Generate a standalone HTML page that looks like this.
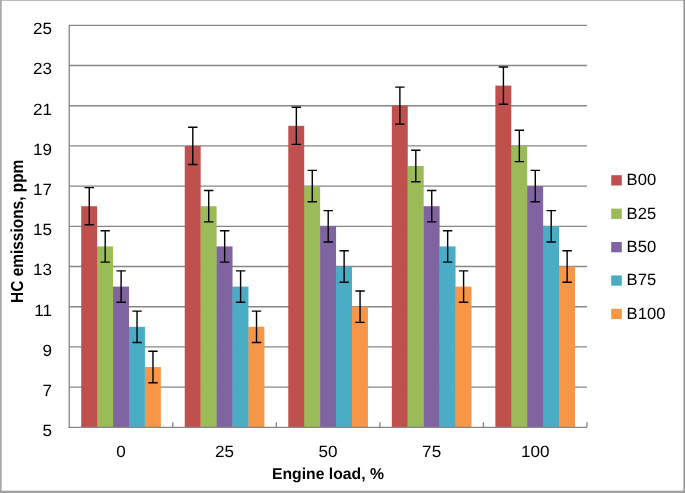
<!DOCTYPE html>
<html><head><meta charset="utf-8"><title>HC emissions</title>
<style>
html,body{margin:0;padding:0;background:#fff;}
svg{display:block}
text{text-rendering:geometricPrecision}
.t{font-family:"Liberation Sans",sans-serif;font-size:16.3px;fill:#000}
.b{font-family:"Liberation Sans",sans-serif;font-size:16px;font-weight:bold;fill:#000}
</style></head><body>
<svg width="685" height="493" viewBox="0 0 685 493">
<rect x="0" y="0" width="685" height="493" fill="#ffffff"/>
<line x1="69.25" x2="586.95" y1="387.10" y2="387.10" stroke="#868686" stroke-width="1.35"/>
<line x1="69.25" x2="586.95" y1="346.90" y2="346.90" stroke="#868686" stroke-width="1.35"/>
<line x1="69.25" x2="586.95" y1="306.70" y2="306.70" stroke="#868686" stroke-width="1.35"/>
<line x1="69.25" x2="586.95" y1="266.50" y2="266.50" stroke="#868686" stroke-width="1.35"/>
<line x1="69.25" x2="586.95" y1="226.30" y2="226.30" stroke="#868686" stroke-width="1.35"/>
<line x1="69.25" x2="586.95" y1="186.10" y2="186.10" stroke="#868686" stroke-width="1.35"/>
<line x1="69.25" x2="586.95" y1="145.90" y2="145.90" stroke="#868686" stroke-width="1.35"/>
<line x1="69.25" x2="586.95" y1="105.70" y2="105.70" stroke="#868686" stroke-width="1.35"/>
<line x1="69.25" x2="586.95" y1="65.50" y2="65.50" stroke="#868686" stroke-width="1.35"/>
<line x1="69.25" x2="586.95" y1="25.30" y2="25.30" stroke="#868686" stroke-width="1.35"/>
<rect x="81.20" y="206.20" width="15.93" height="221.10" fill="#C0504D"/>
<rect x="96.93" y="246.90" width="0.9" height="180.40" fill="#C0504D"/>
<rect x="184.74" y="145.90" width="15.93" height="281.40" fill="#C0504D"/>
<rect x="200.47" y="206.70" width="0.9" height="220.60" fill="#C0504D"/>
<rect x="288.28" y="125.80" width="15.93" height="301.50" fill="#C0504D"/>
<rect x="304.01" y="186.60" width="0.9" height="240.70" fill="#C0504D"/>
<rect x="391.82" y="105.70" width="15.93" height="321.60" fill="#C0504D"/>
<rect x="407.55" y="166.50" width="0.9" height="260.80" fill="#C0504D"/>
<rect x="495.36" y="85.60" width="15.93" height="341.70" fill="#C0504D"/>
<rect x="511.09" y="146.40" width="0.9" height="280.90" fill="#C0504D"/>
<rect x="97.13" y="246.40" width="15.93" height="180.90" fill="#9BBB59"/>
<rect x="112.86" y="287.10" width="0.9" height="140.20" fill="#9BBB59"/>
<rect x="200.67" y="206.20" width="15.93" height="221.10" fill="#9BBB59"/>
<rect x="216.40" y="246.90" width="0.9" height="180.40" fill="#9BBB59"/>
<rect x="304.21" y="186.10" width="15.93" height="241.20" fill="#9BBB59"/>
<rect x="319.94" y="226.80" width="0.9" height="200.50" fill="#9BBB59"/>
<rect x="407.75" y="166.00" width="15.93" height="261.30" fill="#9BBB59"/>
<rect x="423.48" y="206.70" width="0.9" height="220.60" fill="#9BBB59"/>
<rect x="511.29" y="145.90" width="15.93" height="281.40" fill="#9BBB59"/>
<rect x="527.02" y="186.60" width="0.9" height="240.70" fill="#9BBB59"/>
<rect x="113.06" y="286.60" width="15.93" height="140.70" fill="#8064A2"/>
<rect x="128.78" y="327.30" width="0.9" height="100.00" fill="#8064A2"/>
<rect x="216.60" y="246.40" width="15.93" height="180.90" fill="#8064A2"/>
<rect x="232.32" y="287.10" width="0.9" height="140.20" fill="#8064A2"/>
<rect x="320.14" y="226.30" width="15.93" height="201.00" fill="#8064A2"/>
<rect x="335.86" y="267.00" width="0.9" height="160.30" fill="#8064A2"/>
<rect x="423.68" y="206.20" width="15.93" height="221.10" fill="#8064A2"/>
<rect x="439.40" y="246.90" width="0.9" height="180.40" fill="#8064A2"/>
<rect x="527.22" y="186.10" width="15.93" height="241.20" fill="#8064A2"/>
<rect x="542.94" y="226.80" width="0.9" height="200.50" fill="#8064A2"/>
<rect x="128.98" y="326.80" width="15.93" height="100.50" fill="#4BACC6"/>
<rect x="144.71" y="367.50" width="0.9" height="59.80" fill="#4BACC6"/>
<rect x="232.52" y="286.60" width="15.93" height="140.70" fill="#4BACC6"/>
<rect x="248.25" y="327.30" width="0.9" height="100.00" fill="#4BACC6"/>
<rect x="336.06" y="266.50" width="15.93" height="160.80" fill="#4BACC6"/>
<rect x="351.79" y="307.20" width="0.9" height="120.10" fill="#4BACC6"/>
<rect x="439.60" y="246.40" width="15.93" height="180.90" fill="#4BACC6"/>
<rect x="455.33" y="287.10" width="0.9" height="140.20" fill="#4BACC6"/>
<rect x="543.14" y="226.30" width="15.93" height="201.00" fill="#4BACC6"/>
<rect x="558.87" y="267.00" width="0.9" height="160.30" fill="#4BACC6"/>
<rect x="144.91" y="367.00" width="15.93" height="60.30" fill="#F79646"/>
<rect x="248.45" y="326.80" width="15.93" height="100.50" fill="#F79646"/>
<rect x="351.99" y="306.70" width="15.93" height="120.60" fill="#F79646"/>
<rect x="455.53" y="286.60" width="15.93" height="140.70" fill="#F79646"/>
<rect x="559.07" y="266.50" width="15.93" height="160.80" fill="#F79646"/>
<line x1="69.25" x2="69.25" y1="24.70" y2="427.90" stroke="#868686" stroke-width="1.3"/>
<line x1="68.65" x2="586.95" y1="427.30" y2="427.30" stroke="#868686" stroke-width="1.3"/>
<line x1="172.79" x2="172.79" y1="422.30" y2="427.30" stroke="#868686" stroke-width="1.35"/>
<line x1="276.33" x2="276.33" y1="422.30" y2="427.30" stroke="#868686" stroke-width="1.35"/>
<line x1="379.87" x2="379.87" y1="422.30" y2="427.30" stroke="#868686" stroke-width="1.35"/>
<line x1="483.41" x2="483.41" y1="422.30" y2="427.30" stroke="#868686" stroke-width="1.35"/>
<line x1="586.95" x2="586.95" y1="422.30" y2="427.30" stroke="#868686" stroke-width="1.35"/>
<path d="M89.26 187.60V224.80M84.56 187.60H93.96M84.56 224.80H93.96" stroke="#000" stroke-width="1.4" fill="none"/>
<path d="M192.80 127.30V164.50M188.10 127.30H197.50M188.10 164.50H197.50" stroke="#000" stroke-width="1.4" fill="none"/>
<path d="M296.34 107.20V144.40M291.64 107.20H301.04M291.64 144.40H301.04" stroke="#000" stroke-width="1.4" fill="none"/>
<path d="M399.88 87.10V124.30M395.18 87.10H404.58M395.18 124.30H404.58" stroke="#000" stroke-width="1.4" fill="none"/>
<path d="M503.42 67.00V104.20M498.72 67.00H508.12M498.72 104.20H508.12" stroke="#000" stroke-width="1.4" fill="none"/>
<path d="M105.19 230.70V262.10M100.49 230.70H109.89M100.49 262.10H109.89" stroke="#000" stroke-width="1.4" fill="none"/>
<path d="M208.73 190.50V221.90M204.03 190.50H213.43M204.03 221.90H213.43" stroke="#000" stroke-width="1.4" fill="none"/>
<path d="M312.27 170.40V201.80M307.57 170.40H316.97M307.57 201.80H316.97" stroke="#000" stroke-width="1.4" fill="none"/>
<path d="M415.81 150.30V181.70M411.11 150.30H420.51M411.11 181.70H420.51" stroke="#000" stroke-width="1.4" fill="none"/>
<path d="M519.35 130.20V161.60M514.65 130.20H524.05M514.65 161.60H524.05" stroke="#000" stroke-width="1.4" fill="none"/>
<path d="M121.12 270.90V302.30M116.42 270.90H125.82M116.42 302.30H125.82" stroke="#000" stroke-width="1.4" fill="none"/>
<path d="M224.66 230.70V262.10M219.96 230.70H229.36M219.96 262.10H229.36" stroke="#000" stroke-width="1.4" fill="none"/>
<path d="M328.20 210.60V242.00M323.50 210.60H332.90M323.50 242.00H332.90" stroke="#000" stroke-width="1.4" fill="none"/>
<path d="M431.74 190.50V221.90M427.04 190.50H436.44M427.04 221.90H436.44" stroke="#000" stroke-width="1.4" fill="none"/>
<path d="M535.28 170.40V201.80M530.58 170.40H539.98M530.58 201.80H539.98" stroke="#000" stroke-width="1.4" fill="none"/>
<path d="M137.05 311.10V342.50M132.35 311.10H141.75M132.35 342.50H141.75" stroke="#000" stroke-width="1.4" fill="none"/>
<path d="M240.59 270.90V302.30M235.89 270.90H245.29M235.89 302.30H245.29" stroke="#000" stroke-width="1.4" fill="none"/>
<path d="M344.13 250.80V282.20M339.43 250.80H348.83M339.43 282.20H348.83" stroke="#000" stroke-width="1.4" fill="none"/>
<path d="M447.67 230.70V262.10M442.97 230.70H452.37M442.97 262.10H452.37" stroke="#000" stroke-width="1.4" fill="none"/>
<path d="M551.21 210.60V242.00M546.51 210.60H555.91M546.51 242.00H555.91" stroke="#000" stroke-width="1.4" fill="none"/>
<path d="M152.98 351.30V382.70M148.28 351.30H157.68M148.28 382.70H157.68" stroke="#000" stroke-width="1.4" fill="none"/>
<path d="M256.52 311.10V342.50M251.82 311.10H261.22M251.82 342.50H261.22" stroke="#000" stroke-width="1.4" fill="none"/>
<path d="M360.06 291.00V322.40M355.36 291.00H364.76M355.36 322.40H364.76" stroke="#000" stroke-width="1.4" fill="none"/>
<path d="M463.60 270.90V302.30M458.90 270.90H468.30M458.90 302.30H468.30" stroke="#000" stroke-width="1.4" fill="none"/>
<path d="M567.14 250.80V282.20M562.44 250.80H571.84M562.44 282.20H571.84" stroke="#000" stroke-width="1.4" fill="none"/>
<text transform="translate(52 436.20) scale(1.05 1)" text-anchor="end" class="t">5</text>
<text transform="translate(52 396.00) scale(1.05 1)" text-anchor="end" class="t">7</text>
<text transform="translate(52 355.80) scale(1.05 1)" text-anchor="end" class="t">9</text>
<text transform="translate(52 315.60) scale(1.05 1)" text-anchor="end" class="t">11</text>
<text transform="translate(52 275.40) scale(1.05 1)" text-anchor="end" class="t">13</text>
<text transform="translate(52 235.20) scale(1.05 1)" text-anchor="end" class="t">15</text>
<text transform="translate(52 195.00) scale(1.05 1)" text-anchor="end" class="t">17</text>
<text transform="translate(52 154.80) scale(1.05 1)" text-anchor="end" class="t">19</text>
<text transform="translate(52 114.60) scale(1.05 1)" text-anchor="end" class="t">21</text>
<text transform="translate(52 74.40) scale(1.05 1)" text-anchor="end" class="t">23</text>
<text transform="translate(52 34.20) scale(1.05 1)" text-anchor="end" class="t">25</text>
<text transform="translate(121.02 456.5) scale(1.05 1)" text-anchor="middle" class="t">0</text>
<text transform="translate(224.56 456.5) scale(1.05 1)" text-anchor="middle" class="t">25</text>
<text transform="translate(328.10 456.5) scale(1.05 1)" text-anchor="middle" class="t">50</text>
<text transform="translate(431.64 456.5) scale(1.05 1)" text-anchor="middle" class="t">75</text>
<text transform="translate(535.18 456.5) scale(1.05 1)" text-anchor="middle" class="t">100</text>
<text x="272.0" y="479.0" class="b" style="font-size:15.8px" textLength="112" lengthAdjust="spacingAndGlyphs">Engine load, %</text>
<text transform="translate(22.8 302.9) rotate(-90)" class="b" style="font-size:17.4px" textLength="143.2" lengthAdjust="spacingAndGlyphs">HC emissions, ppm</text>
<rect x="611.2" y="175.20" width="10.6" height="10.3" fill="#C0504D"/>
<text transform="translate(626.6 185.20) scale(1.02 1)" class="t">B00</text>
<rect x="611.2" y="208.60" width="10.6" height="10.3" fill="#9BBB59"/>
<text transform="translate(626.6 218.60) scale(1.02 1)" class="t">B25</text>
<rect x="611.2" y="242.00" width="10.6" height="10.3" fill="#8064A2"/>
<text transform="translate(626.6 252.00) scale(1.02 1)" class="t">B50</text>
<rect x="611.2" y="275.40" width="10.6" height="10.3" fill="#4BACC6"/>
<text transform="translate(626.6 285.40) scale(1.02 1)" class="t">B75</text>
<rect x="611.2" y="308.80" width="10.6" height="10.3" fill="#F79646"/>
<text transform="translate(626.6 318.80) scale(1.02 1)" class="t">B100</text>
<rect x="0" y="0" width="685" height="1" fill="#bbbbbb"/>
<rect x="0" y="0" width="1.7" height="493" fill="#a8a8a8"/>
<rect x="683.4" y="0" width="1.6" height="493" fill="#999999"/>
<rect x="0" y="490.7" width="685" height="2.3" fill="#a0a0a0"/>
</svg>
</body></html>
